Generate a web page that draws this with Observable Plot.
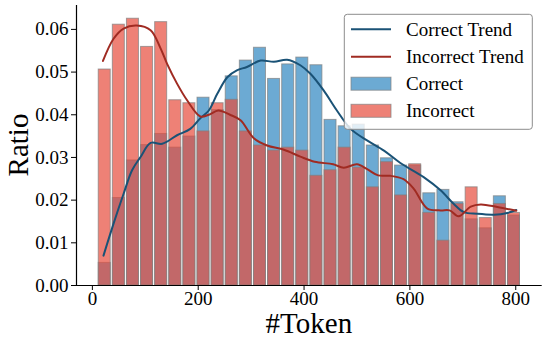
<!DOCTYPE html>
<html><head><meta charset="utf-8">
<script src="https://cdn.jsdelivr.net/npm/d3@7"></script>
<script src="https://cdn.jsdelivr.net/npm/@observablehq/plot@0.6"></script>
<style>body{margin:0;background:#fff}</style>
</head><body><div id="chart"></div>
<script>
// Histogram bins: 30 bins from 10 to 810 tokens
const binStart = 10;
const binCount = 30;
const binWidth = 800 / 30;
const correct = [0.0053,0.0205,0.0293,0.0329,0.0355,0.0323,0.0349,0.0440,0.0411,0.0490,0.0527,0.0557,0.0484,0.0518,0.0534,0.0516,0.0388,0.0373,0.0377,0.0328,0.0298,0.0281,0.0281,0.0216,0.0224,0.0195,0.0155,0.0134,0.0209,0.0164];
const incorrect = [0.0506,0.0611,0.0625,0.0559,0.0617,0.0434,0.0427,0.0361,0.0427,0.0435,0.0361,0.0328,0.0316,0.0323,0.0316,0.0257,0.0270,0.0323,0.0276,0.0230,0.0289,0.0211,0.0284,0.0170,0.0105,0.0191,0.0230,0.0158,0.0191,0.0170];

// Trend curves
const correctTrendX = [21,40,59,75,91,110,132,160,185,204,220,236,255,273,292,318,343,368,393,412,437,462,488,519,551,582,626,658,683,702,727,759,784,801];
const correctTrendY = [0.0070,0.0145,0.0215,0.0270,0.0301,0.0334,0.0332,0.0352,0.0367,0.0392,0.0410,0.0449,0.0488,0.0504,0.0512,0.0527,0.0524,0.0529,0.0516,0.0496,0.0457,0.0410,0.0367,0.0340,0.0316,0.0287,0.0254,0.0223,0.0191,0.0172,0.0168,0.0166,0.0170,0.0177];
const incorrectTrendX = [20,40,59,84,110,128,141,160,179,204,220,238,260,280,305,330,362,393,420,455,475,500,520,540,563,588,607,633,658,675,692,715,734,765,801];
const incorrectTrendY = [0.0526,0.0578,0.0602,0.0609,0.0598,0.0558,0.0520,0.0473,0.0434,0.0396,0.0400,0.0410,0.0400,0.0387,0.0345,0.0328,0.0318,0.0302,0.0290,0.0284,0.0276,0.0284,0.0272,0.0258,0.0257,0.0249,0.0227,0.0180,0.0176,0.0176,0.0162,0.0185,0.0190,0.0184,0.0175];

const xTicks = [0,200,400,600,800];
const yTicks = [0,0.01,0.02,0.03,0.04,0.05,0.06];

const blue = "#2e86c1", red = "#e74c3c";
const blueLine = "#1a5276", redLine = "#a02b22";

const bins = (vals) => vals.map((v,i) => ({x1: binStart + i*binWidth, x2: binStart + (i+1)*binWidth, y: v}));
const pts = (xs, ys) => xs.map((x,i) => ({x, y: ys[i]}));

const barOpts = {x1:"x1", x2:"x2", y:"y", fillOpacity:0.7, stroke:"gray", strokeOpacity:0.7, strokeWidth:1, insetLeft:1.05, insetRight:1.05};

const svg = Plot.plot({
  width: 548, height: 345,
  marginLeft: 76, marginRight: 6.3, marginTop: 5, marginBottom: 60,
  style: {fontFamily: "Liberation Serif", fontSize: "19px", background: "white", color: "black"},
  x: {domain: [-30, 850]},
  y: {domain: [0, 0.0656]},
  marks: [
    Plot.rectY(bins(correct), {...barOpts, fill: blue}),
    Plot.rectY(bins(incorrect), {...barOpts, fill: red}),
    Plot.line(pts(correctTrendX, correctTrendY), {x:"x", y:"y", stroke: blueLine, strokeWidth: 2, curve: "catmull-rom"}),
    Plot.line(pts(incorrectTrendX, incorrectTrendY), {x:"x", y:"y", stroke: redLine, strokeWidth: 2, curve: "catmull-rom"}),
    Plot.axisX({ticks: xTicks, tickSize: 5, tickPadding: 1, label: null, fontSize: 19, strokeWidth: 1}),
    Plot.axisY({ticks: yTicks, tickSize: 5, tickPadding: 3, label: null, fontSize: 19, tickFormat: d3.format(".2f"), strokeWidth: 1}),
    Plot.ruleY([0], {stroke: "black", strokeWidth: 1.2}),
    Plot.ruleX([-30], {stroke: "black", strokeWidth: 1.2})
  ]
});

const s = d3.select(svg);
// Axis titles
s.append("text").attr("x", 308.9).attr("y", 333).attr("text-anchor", "middle")
  .attr("font-family", "Liberation Serif").attr("font-size", 29).attr("fill", "black").text("#Token");
s.append("text").attr("transform", "translate(27.5,145) rotate(-90)").attr("text-anchor", "middle")
  .attr("font-family", "Liberation Serif").attr("font-size", 29).attr("fill", "black").text("Ratio");

// Legend
const lg = s.append("g").attr("font-family", "Liberation Serif").attr("font-size", 19).attr("text-anchor", "start");
lg.append("rect").attr("x", 344.3).attr("y", 14.3).attr("width", 188).attr("height", 115).attr("rx", 3)
  .attr("fill", "white").attr("fill-opacity", 0.8).attr("stroke", "#8c8c8c").attr("stroke-width", 1);
const entries = [
  {label: "Correct Trend", type: "line", color: blueLine, cy: 29.3},
  {label: "Incorrect Trend", type: "line", color: redLine, cy: 56.7},
  {label: "Correct", type: "patch", color: blue, cy: 83.7},
  {label: "Incorrect", type: "patch", color: red, cy: 110.8}
];
for (const e of entries) {
  if (e.type === "line") {
    lg.append("line").attr("x1", 351).attr("x2", 391).attr("y1", e.cy).attr("y2", e.cy)
      .attr("stroke", e.color).attr("stroke-width", 2);
  } else {
    lg.append("rect").attr("x", 351).attr("y", e.cy - 6.5).attr("width", 40).attr("height", 13)
      .attr("fill", e.color).attr("fill-opacity", 0.7).attr("stroke", "gray").attr("stroke-opacity", 0.7);
  }
  lg.append("text").attr("x", 406).attr("y", e.cy + 6.6).attr("text-anchor", "start").attr("fill", "black").text(e.label);
}

document.getElementById("chart").appendChild(svg);
</script>
</body></html>
